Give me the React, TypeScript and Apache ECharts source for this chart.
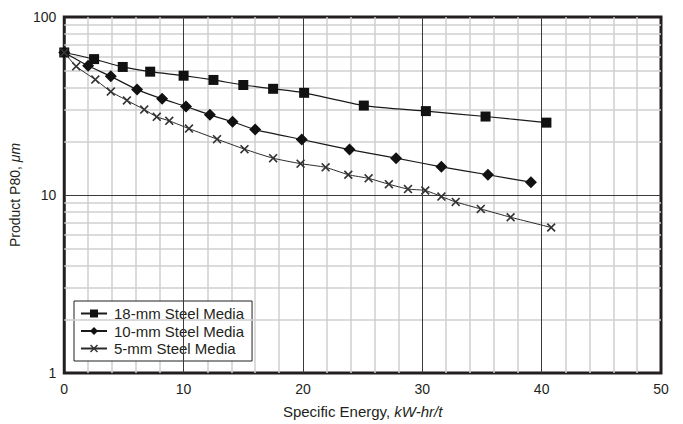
import React, { useEffect, useRef } from "react";
import * as echarts from "echarts";

const seriesNames = ["18-mm Steel Media", "10-mm Steel Media", "5-mm Steel Media"];

const energy18 = [0, 2.5, 4.9, 7.2, 10, 12.5, 15, 17.5, 20.1, 25.1, 30.3, 35.3, 40.4];
const p80_18 = [63.2, 58, 52.4, 49.3, 46.8, 44.3, 41.5, 39.5, 37.5, 31.8, 29.6, 27.6, 25.5];

const energy10 = [0, 2, 3.9, 6.1, 8.2, 10.2, 12.2, 14.1, 16, 19.9, 23.9, 27.8, 31.6, 35.5, 39.1];
const p80_10 = [63.2, 53.2, 46.4, 39.1, 34.7, 31.4, 28.2, 25.8, 23.3, 20.5, 18, 16.1, 14.4, 13, 11.8];

const energy5 = [0, 1.0, 2.6, 3.9, 5.25, 6.7, 7.75, 8.8, 10.45, 12.8, 15.1, 17.5, 19.8, 21.9, 23.8, 25.5, 27.2, 28.8, 30.25, 31.6, 32.8, 34.9, 37.4, 40.8];
const p80_5 = [63.2, 52.8, 44.5, 38.1, 34.0, 30.2, 27.5, 26.1, 23.6, 20.6, 18.1, 16.1, 15.0, 14.3, 13.0, 12.4, 11.5, 10.8, 10.6, 9.8, 9.14, 8.35, 7.5, 6.57];

const xTicks = [0, 10, 20, 30, 40, 50];
const yTicks = [1, 10, 100];
const yMinorGrid = [2, 3, 4, 5, 6, 7, 8, 9, 20, 30, 40, 50, 60, 70, 80, 90];
const xMajorGrid = [10, 20, 30, 40];
const yMajorGrid = [10];

const X_SYMBOL = "path://M0,1.3L1.3,0L5,3.7L8.7,0L10,1.3L6.3,5L10,8.7L8.7,10L5,6.3L1.3,10L0,8.7L3.7,5Z";

const zip = (xs: number[], ys: number[]) => xs.map((x, i) => [x, ys[i]]);

export default function App() {
  const ref = useRef<HTMLDivElement>(null);
  useEffect(() => {
    if (!ref.current) return;
    const chart = echarts.init(ref.current, null, { renderer: "svg" });
    const font = "'Liberation Sans', Arial, sans-serif";
    const ink = "#231f20";
    chart.setOption({
      animation: false,
      textStyle: { fontFamily: font },
      grid: {
        left: 62,
        right: 22,
        top: 17,
        bottom: 49,
        show: true,
        borderWidth: 3,
        borderColor: ink,
        backgroundColor: "transparent",
      },
      legend: {
        data: seriesNames,
        orient: "vertical",
        left: 74,
        top: 301,
        backgroundColor: "#fff",
        borderColor: ink,
        borderWidth: 1,
        borderRadius: 0,
        padding: [5, 8, 5, 6],
        itemGap: 2.5,
        itemWidth: 26,
        itemHeight: 10,
        textStyle: { fontSize: 15, color: ink, fontFamily: font, padding: [0, 0, 0, 2] },
      },
      xAxis: {
        type: "value",
        min: 0,
        max: 50,
        interval: 10,
        axisLine: { show: false },
        axisTick: { show: false },
        minorTick: { show: false, splitNumber: 5 },
        splitLine: { show: false },
        minorSplitLine: { show: true, lineStyle: { color: "#cfcfcf", width: 1.5 } },
        axisLabel: { fontSize: 14, color: ink, margin: 9, fontFamily: font,
          formatter: (v: number) => (xTicks.includes(v) ? String(v) : "") },
        name: "Specific Energy, {i|kW-hr/t}",
        nameLocation: "middle",
        nameGap: 31,
        nameTextStyle: {
          fontSize: 15, color: ink, fontFamily: font,
          rich: { i: { fontStyle: "italic", fontSize: 15, color: ink, fontFamily: font } },
        },
      },
      yAxis: {
        type: "log",
        logBase: 10,
        min: 1,
        max: 100,
        axisLine: { show: false },
        axisTick: { show: false },
        splitLine: { show: false },
        axisLabel: { fontSize: 14, color: ink, margin: 8, fontFamily: font,
          formatter: (v: number) => (yTicks.includes(Math.round(v)) ? String(Math.round(v)) : "") },
        name: "Product P80, {i|μm}",
        nameLocation: "middle",
        nameRotate: 90,
        nameGap: 37,
        nameTextStyle: {
          fontSize: 14, color: ink, fontFamily: font,
          rich: { i: { fontStyle: "italic", fontSize: 14, color: ink, fontFamily: font } },
        },
      },
      series: [
        {
          name: "grid",
          type: "line",
          data: [],
          z: 1,
          silent: true,
          markLine: {
            silent: true,
            symbol: ["none", "none"],
            label: { show: false },
            animation: false,
            data: [
              ...yMinorGrid.map((v) => ({ yAxis: v, lineStyle: { color: "#cfcfcf", width: 1.5, type: "solid" } })),
              ...xMajorGrid.map((v) => ({ xAxis: v, lineStyle: { color: "#3a3a3a", width: 1, type: "solid" } })),
              ...yMajorGrid.map((v) => ({ yAxis: v, lineStyle: { color: "#3a3a3a", width: 1, type: "solid" } })),
            ],
          },
        },
        {
          name: seriesNames[0],
          type: "line",
          z: 5,
          data: zip(energy18, p80_18),
          symbol: "rect",
          symbolSize: 10,
          smooth: 0.2,
          lineStyle: { color: "#1a1a1a", width: 1.2 },
          itemStyle: { color: "#111" },
        },
        {
          name: seriesNames[1],
          type: "line",
          z: 5,
          data: zip(energy10, p80_10),
          symbol: "diamond",
          symbolSize: 12,
          smooth: 0.2,
          lineStyle: { color: "#1a1a1a", width: 1.2 },
          itemStyle: { color: "#111" },
        },
        {
          name: seriesNames[2],
          type: "line",
          z: 5,
          data: zip(energy5, p80_5),
          symbol: X_SYMBOL,
          symbolSize: 9,
          smooth: 0.2,
          lineStyle: { color: "#2a2a2a", width: 1 },
          itemStyle: { color: "#333" },
        },
      ],
    });
    return () => chart.dispose();
  }, []);
  return (
    <div
      ref={ref}
      style={{ position: "fixed", left: 0, top: 0, width: 683, height: 424, background: "#fff" }}
    />
  );
}
